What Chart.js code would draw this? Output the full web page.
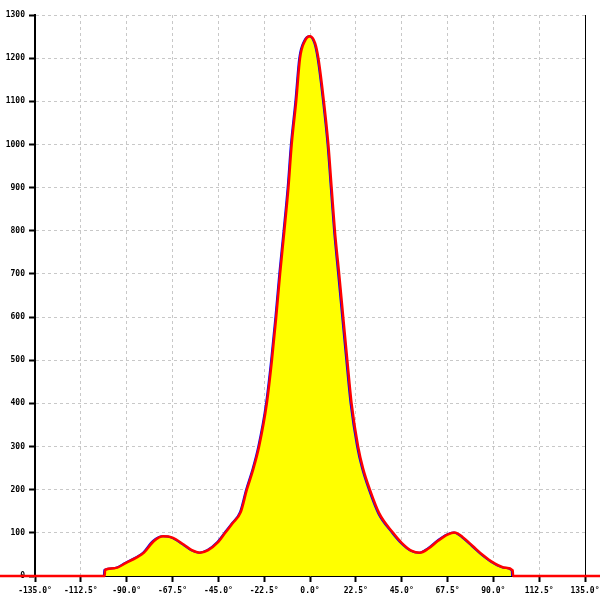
<!DOCTYPE html>
<html>
<head>
<meta charset="utf-8">
<script src="https://cdn.jsdelivr.net/npm/chart.js@4.4.0/dist/chart.umd.min.js"></script>
<style>
  body { margin: 0; background: #fff; }
  #wrap { width: 600px; height: 600px; }
</style>
</head>
<body>
<div id="wrap"><canvas id="pattern" width="600" height="600"></canvas></div>
<script>
// angle (deg) and measured level, red trace
const redAngles = [-160, -100.8, -100.6, -96, -90, -85, -81.5, -76.6, -72, -67.5, -62, -58, -54, -50, -45, -41.6, -38, -34, -31, -28, -25, -21.2, -18.7, -16.6, -14.7, -12.6, -10.6, -9.0, -6.8, -4.9, -2.5, 0, 2.5, 4.1, 6.8, 9.0, 10.6, 12.2, 14.3, 16.3, 18.3, 20.4, 23.6, 26, 29.4, 34, 40.8, 45, 50, 54, 58, 63, 67.5, 71, 75, 80, 85, 90, 96, 99.5, 99.7, 160];
const redValues = [0, 0, 14, 18, 31, 43, 54, 81, 92, 89, 73, 60, 54, 60, 79, 100, 122, 148, 200, 245, 300, 400, 500, 600, 700, 800, 900, 1000, 1100, 1200, 1240, 1251, 1235, 1200, 1100, 1000, 900, 800, 700, 600, 500, 400, 300, 250, 200, 145, 100, 77, 58, 54, 63, 82, 96, 101, 90, 69, 48, 31, 19, 13, 0, 0];

// blue trace, a touch to the left of the red one
const blueAngles = [-101.2, -101.0, -96.5, -90.5, -85.5, -82, -77.2, -72.5, -68, -62.5, -58.5, -54.5, -50.5, -45.5, -42, -38.4, -34.4, -31.4, -28.4, -25.4, -21.6, -19.1, -17.0, -15.1, -13.0, -11.0, -9.4, -7.2, -5.3, -2.9, -0.3, 2.1, 3.7, 6.4, 8.6, 10.2, 11.8, 13.8, 15.8, 17.8, 19.9, 23.1, 25.5, 28.9, 33.5, 40.3, 44.5, 49.5, 53.5, 57.5, 62.5, 67, 70.5, 74.5, 79.5, 84.5, 89.5, 95.5, 99.0, 99.2];
const blueValues = [0, 14, 18, 31, 43, 54, 81, 92, 89, 73, 60, 54, 60, 79, 100, 122, 148, 200, 245, 300, 400, 500, 600, 700, 800, 900, 1000, 1100, 1200, 1240, 1251, 1235, 1200, 1100, 1000, 900, 800, 700, 600, 500, 400, 300, 250, 200, 145, 100, 77, 58, 54, 63, 82, 96, 101, 90, 69, 48, 31, 19, 13, 0];

const xTickStep = 22.5;
const yTickStep = 100;

const tickFont = { family: 'DejaVu Sans Mono', size: 8, weight: 'bold' };

const ctx = document.getElementById('pattern');
new Chart(ctx, {
    type: 'line',
    data: {
        datasets: [{
            label: 'red',
            data: redAngles.map((a, i) => ({ x: a, y: redValues[i] })),
            borderColor: '#ff0000',
            borderWidth: 2.5,
            pointRadius: 0,
            fill: false,
            clip: false,
            cubicInterpolationMode: 'monotone'
        }, {
            label: 'blue',
            data: blueAngles.map((a, i) => ({ x: a, y: blueValues[i] })),
            borderColor: '#0000ff',
            borderWidth: 2,
            pointRadius: 0,
            fill: 'origin',
            backgroundColor: '#ffff00',
            cubicInterpolationMode: 'monotone'
        }]
    },
    options: {
        responsive: false,
        animation: false,
        layout: { padding: { top: 15, left: 0, right: 0, bottom: 0 } },
        plugins: {
            legend: { display: false },
            tooltip: { enabled: false }
        },
        scales: {
            x: {
                type: 'linear',
                min: -135,
                max: 135,
                afterBuildTicks: (s) => {
                    s.ticks = [];
                    for (let v = -135; v <= 135; v += xTickStep) s.ticks.push({ value: v });
                },
                ticks: {
                    color: '#000',
                    font: tickFont,
                    padding: 4,
                    maxRotation: 0,
                    autoSkip: false,
                    callback: (v) => v.toFixed(1) + '°'
                },
                grid: {
                    color: '#c8c8c8',
                    tickColor: '#000',
                    tickLength: 6,
                    tickWidth: 2,
                    tickBorderDash: []
                },
                border: { color: '#000', width: 1, dash: [3, 3] },
                afterFit: (s) => { s.height = 24; s.paddingLeft = 0; s.paddingRight = 0; }
            },
            y: {
                min: 0,
                max: 1300,
                ticks: {
                    stepSize: yTickStep,
                    color: '#000',
                    font: tickFont,
                    padding: 4,
                    callback: (v) => String(v)
                },
                grid: {
                    color: '#c8c8c8',
                    tickColor: '#000',
                    tickLength: 6,
                    tickWidth: 2,
                    tickBorderDash: []
                },
                border: { color: '#000', width: 2, dash: [3, 3] },
                afterFit: (s) => { s.width = 35; s.paddingTop = 0; s.paddingBottom = 0; }
            },
            yRight: {
                position: 'right',
                min: 0,
                max: 1300,
                ticks: { display: false },
                grid: { display: false },
                border: { color: '#000', width: 1 },
                afterFit: (s) => { s.width = 15; }
            }
        }
    }
});
</script>
</body>
</html>
